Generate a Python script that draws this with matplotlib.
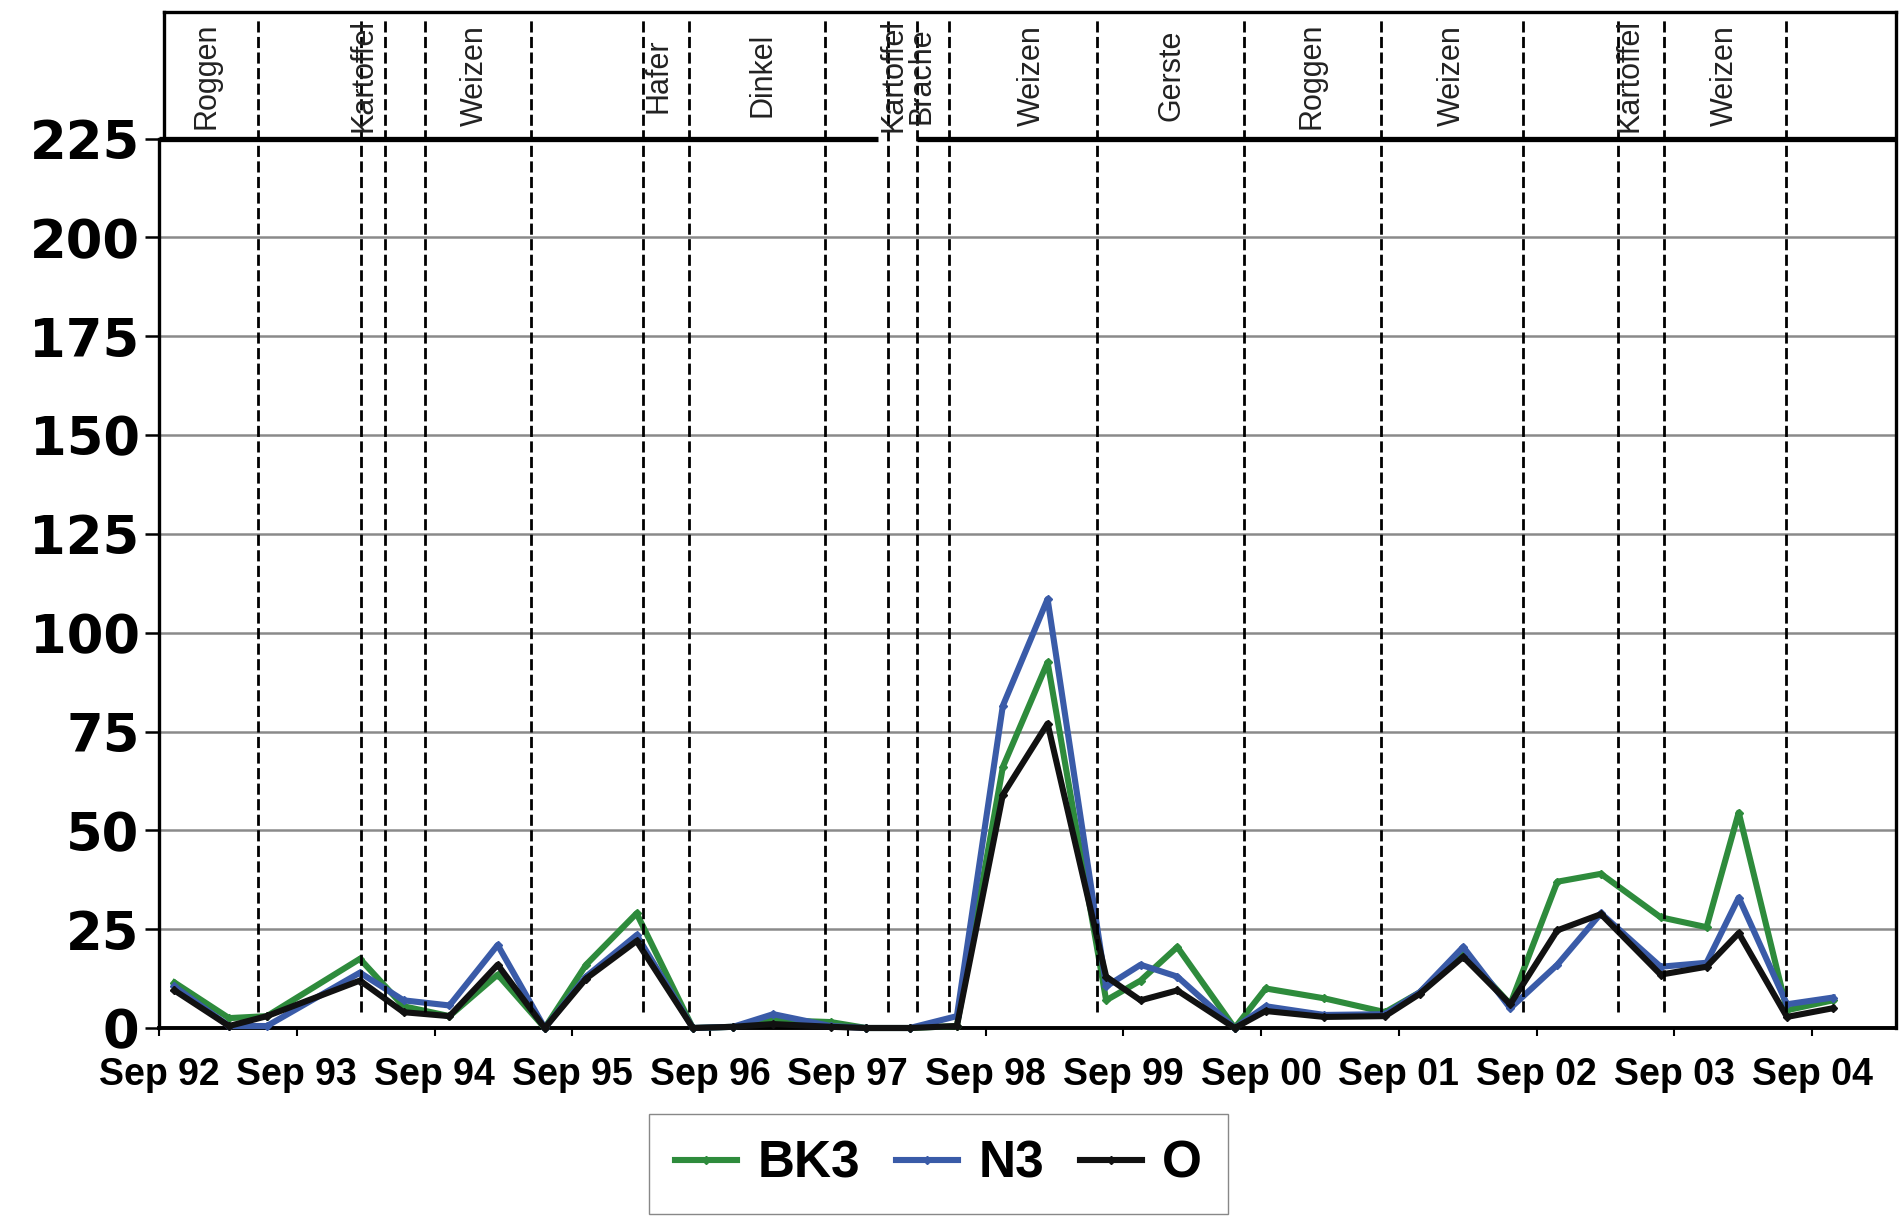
import matplotlib.pyplot as plt

# sampling dates, months since Sep 1992
months = [1.35, 6.1, 9.4, 17.5, 21.3, 25.3, 29.5, 33.6, 37.2, 41.6, 46.5, 50.0,
          53.5, 58.5, 61.6, 65.4, 69.5, 73.5, 77.4, 82.5, 85.5, 88.7, 93.7, 96.4,
          101.5, 106.8, 109.8, 113.6, 117.7, 121.8, 125.6, 130.8, 134.8, 137.6,
          141.8, 145.8]
bk3 = [11.5, 2.5, 3, 17.5, 5.5, 3, 13.5, 0, 16, 29, 0, 0.3,
       2, 1.5, 0, 0, 0.5, 66, 92.5, 7, 12, 20.5, 0, 10,
       7.5, 4, 9, 19, 6, 37, 39, 28, 25.5, 54.5,
       4.5, 7]
n3 = [10.5, 0.5, 0.5, 14, 7, 5.7, 21, 0, 13, 23.5, 0, 0.3,
      3.5, 0.5, 0, 0, 3, 81.5, 108.5, 10.5, 16, 13, 0, 5.5,
      3.3, 3.5, 9, 20.5, 5, 16, 29, 15.5, 16.5, 33,
      6, 7.7]
o = [9.5, 0.5, 3, 12, 4, 3, 16, 0, 12.5, 22, 0, 0.3,
     1, 0.3, 0, 0, 0.5, 59, 77, 13, 7, 9.5, 0, 4.3,
     2.8, 3, 8.6, 18, 6, 24.7, 28.8, 13.5, 15.5, 24,
     2.8, 5]

year_labels = ['Sep 92', 'Sep 93', 'Sep 94', 'Sep 95', 'Sep 96', 'Sep 97', 'Sep 98',
               'Sep 99', 'Sep 00', 'Sep 01', 'Sep 02', 'Sep 03', 'Sep 04']
y_ticks = [0, 25, 50, 75, 100, 125, 150, 175, 200, 225]

# crop rotation: boundaries and labels (months since Sep 1992)
borders = [8.6, 17.6, 19.7, 23.2, 32.4, 42.2, 46.2, 58.0, 63.5, 66.0, 68.8,
           81.7, 94.5, 106.4, 118.8, 127.1, 131.1, 141.7]
crops = ['Roggen', 'Kartoffel', 'Weizen', 'Hafer', 'Dinkel', 'Kartoffel', 'Brache',
         'Weizen', 'Gerste', 'Roggen', 'Weizen', 'Kartoffel', 'Weizen']
crop_x = [4.1, 17.8, 27.5, 43.5, 52.6, 64.0, 66.4, 76.0, 88.2, 100.4, 112.6, 128.1, 136.4]

x_max = 151.3
y_top = 257

fig = plt.figure(figsize=(19, 12.18), dpi=100)
ax = fig.add_axes([159 / 1900, 190 / 1218, (1896 - 159) / 1900, (1028 - 12) / 1218])
ax.set_xlim(0, x_max)
ax.set_ylim(0, y_top)

series = [('BK3', bk3, '#2e8b3c'), ('N3', n3, '#3a5ba8'), ('O', o, '#111111')]
handles = []
for name, vals, col in series:
    h, = ax.plot(months, vals, color=col, lw=4.4, marker='D', markersize=4,
                 label=name, zorder=3, clip_on=False)
    handles.append(h)

# gridlines
for v in y_ticks[1:-1]:
    ax.axhline(v, color='#8a8a8a', lw=1.8, zorder=1)

# crop borders
for b in borders:
    ax.plot([b, b], [4, y_top - 1.5], color='black', lw=2.0, dashes=(4, 1.6),
            zorder=4, clip_on=False)

# box on top with crop names
ax.plot([0, 62.6], [225, 225], color='black', lw=3.8, zorder=5, solid_capstyle='butt')
ax.plot([66.0, x_max], [225, 225], color='black', lw=3.8, zorder=5, solid_capstyle='butt')
ax.plot([0.4, x_max], [y_top, y_top], color='black', lw=2.4, zorder=5, clip_on=False)
ax.plot([0.4, 0.4], [225, y_top], color='black', lw=2.4, zorder=5, clip_on=False)
for name, xc in zip(crops, crop_x):
    ax.text(xc, 241, name, rotation=90, ha='center', va='center',
            fontsize=22, family='Liberation Sans', color='#222222', zorder=6)

ax.spines['top'].set_visible(False)
ax.spines['left'].set_bounds(0, 225)
for s in ['left', 'right', 'bottom']:
    ax.spines[s].set_linewidth(2.4)
ax.spines['bottom'].set_linewidth(2.8)

ax.set_xticks([12 * i for i in range(len(year_labels))])
ax.set_xticklabels(year_labels, family='Liberation Sans', fontweight='bold', fontsize=27)
ax.set_yticks(y_ticks)
ax.set_yticklabels([str(v) for v in y_ticks], family='DejaVu Sans', fontweight='bold',
                   fontsize=38)
ax.tick_params(axis='x', length=6, width=1.5, pad=15)
ax.tick_params(axis='y', length=10, width=1.8, pad=4)

fig.legend(handles=handles, loc='lower center', bbox_to_anchor=(0.494, 0.003), ncol=3,
           fancybox=False, edgecolor='#888888', framealpha=1, borderaxespad=0,
           prop={'family': 'Liberation Sans', 'weight': 'bold', 'size': 37},
           handlelength=1.2, handletextpad=0.4, columnspacing=0.7, borderpad=0.5)

fig.savefig('out.png', dpi=100)
